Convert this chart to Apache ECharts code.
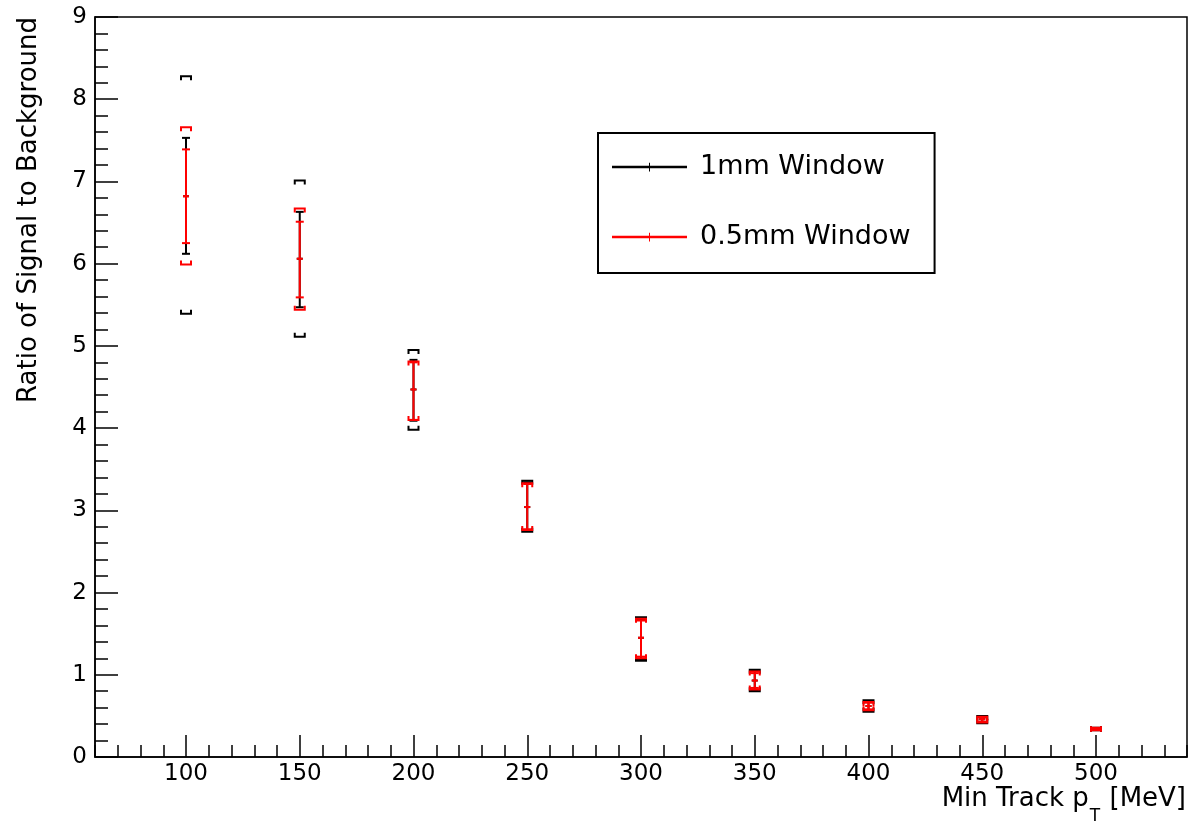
<!DOCTYPE html>
<html>
<head>
<meta charset="utf-8">
<script src="https://cdn.jsdelivr.net/npm/echarts@6/dist/echarts.min.js"></script>
<style>
  html, body { margin: 0; padding: 0; background: #fff; }
  #chart { width: 1191px; height: 829px; }
</style>
</head>
<body>
<div id="chart"></div>
<script>
/** Ratio of signal to background vs min track pT */

const FONT = '"DejaVu Sans"'

// x values (MeV)
const pt = [100, 150, 200, 250, 300, 350, 400, 450, 500]

// 1mm window: central value, stat errors, systematic brackets
const oneCenter = [6.82, 6.06, 4.47, 3.04, 1.45, 0.93, 0.62, 0.46, 0.34]
const oneStatLo = [6.12, 5.47, 4.09, 2.75, 1.19, 0.81, 0.56, 0.42, 0.33]
const oneStatHi = [7.53, 6.63, 4.83, 3.34, 1.68, 1.05, 0.68, 0.49, 0.35]
const oneSysLo = [5.39, 5.11, 3.98, 2.74, 1.17, 0.80, 0.55, 0.41, 0.325]
const oneSysHi = [8.28, 7.01, 4.95, 3.36, 1.70, 1.06, 0.69, 0.50, 0.355]

// 0.5mm window
const halfCenter = [6.82, 6.06, 4.47, 3.04, 1.45, 0.93, 0.62, 0.46, 0.34]
const halfStatLo = [6.25, 5.59, 4.10, 2.77, 1.22, 0.84, 0.58, 0.43, 0.33]
const halfStatHi = [7.39, 6.51, 4.80, 3.32, 1.66, 1.02, 0.66, 0.48, 0.35]
const halfSysLo = [5.99, 5.44, 4.10, 2.76, 1.20, 0.82, 0.57, 0.42, 0.325]
const halfSysHi = [7.66, 6.67, 4.81, 3.33, 1.68, 1.04, 0.67, 0.49, 0.355]

// tick labels
const xMajor = [100, 150, 200, 250, 300, 350, 400, 450, 500]
const xTitle = ['Min Track p', 'T', ' [MeV]']
const yTitle = 'Ratio of Signal to Background'
const names = ['1mm Window', '0.5mm Window']

/** 组装 custom series 数据 */
function buildData(c, sl, sh, yl, yh) {
    return pt.map((x, i) => [x, c[i], sl[i], sh[i], yl[i], yh[i]])
}

/** 误差棒 + 系统误差括号 */
function renderErr(color) {
    return function (params, api) {
        let x = api.value(0)
        let c = api.coord([x, api.value(1)])
        let sl = api.coord([x, api.value(2)])
        let sh = api.coord([x, api.value(3)])
        let yl = api.coord([x, api.value(4)])
        let yh = api.coord([x, api.value(5)])
        let cx = c[0]
        let st = { stroke: color, lineWidth: 2, fill: null }
        let seg = (x1, y1, x2, y2) => ({ type: 'line', shape: { x1, y1, x2, y2 }, style: st })
        let poly = pts => ({ type: 'polyline', shape: { points: pts }, style: st })
        let w = 5, cap = 4, leg = 4
        return {
            type: 'group',
            children: [
                seg(cx, sl[1], cx, sh[1]),
                seg(cx - cap, sl[1], cx + cap, sl[1]),
                seg(cx - cap, sh[1], cx + cap, sh[1]),
                seg(cx - 3, c[1], cx + 3, c[1]),
                poly([[cx - w, yh[1] + leg], [cx - w, yh[1]], [cx + w, yh[1]], [cx + w, yh[1] + leg]]),
                poly([[cx - w, yl[1] - leg], [cx - w, yl[1]], [cx + w, yl[1]], [cx + w, yl[1] - leg]])
            ]
        }
    }
}

let chart = echarts.init(document.getElementById('chart'))

let lineIcon = 'path://M0,4L60,4L60,6L0,6Z M29.6,1.5L30.4,1.5L30.4,8.5L29.6,8.5Z'

let option = {
    backgroundColor: '#fff',
    animation: false,
    textStyle: { fontFamily: FONT },
    grid: {
        left: 95, right: 4, top: 17, bottom: 72,
        show: true, borderColor: '#000', borderWidth: 1.5, backgroundColor: '#fff'
    },
    legend: {
        orient: 'vertical',
        left: 598, top: 133,
        padding: [19, 24, 21, 14],
        itemGap: 40,
        itemWidth: 75, itemHeight: 10,
        borderColor: '#000', borderWidth: 2,
        backgroundColor: '#fff',
        textStyle: { fontSize: 27, lineHeight: 30, color: '#000', fontFamily: FONT, padding: [0, 0, 0, 8] },
        data: [
            { name: names[0], icon: lineIcon },
            { name: names[1], icon: lineIcon }
        ]
    },
    xAxis: [{
        type: 'value', min: 60, max: 540, interval: 10,
        axisLine: { onZero: false, lineStyle: { color: '#000', width: 1.5 } },
        axisTick: { inside: true, length: 12, lineStyle: { color: '#000', width: 1.5 } },
        axisLabel: {
            customValues: xMajor,
            fontSize: 23, color: '#000', margin: 6, fontFamily: FONT
        },
        splitLine: { show: false }
    }, {
        type: 'value', min: 60, max: 540, position: 'bottom', offset: 0,
        axisLine: { show: false, onZero: false },
        axisTick: { inside: true, length: 22, customValues: xMajor, lineStyle: { color: '#000', width: 1.5 } },
        axisLabel: { show: false },
        splitLine: { show: false }
    }],
    yAxis: {
        type: 'value', min: 0, max: 9, interval: 1,
        axisLine: { show: true, lineStyle: { color: '#000', width: 1.5 } },
        axisTick: { inside: true, length: 23, lineStyle: { color: '#000', width: 1.5 } },
        minorTick: { show: true, splitNumber: 5, length: 13, lineStyle: { color: '#000', width: 1.5 } },
        axisLabel: { fontSize: 23, color: '#000', margin: 8, fontFamily: FONT, showMinLabel: true, showMaxLabel: true },
        splitLine: { show: false }
    },
    graphic: [{
        type: 'text', x: 29, y: 17, rotation: Math.PI / 2,
        style: { text: yTitle, fill: '#000', font: '26px ' + FONT, align: 'right', verticalAlign: 'middle' }
    }, {
        type: 'text', x: 1186, y: 786,
        style: {
            text: '{a|' + xTitle[0] + '}{s|' + xTitle[1] + '}{a|' + xTitle[2] + '}',
            fill: '#000', align: 'right', verticalAlign: 'top',
            rich: {
                a: { fontSize: 26, fontFamily: FONT, lineHeight: 30, verticalAlign: 'top', fill: '#000' },
                s: { fontSize: 17, fontFamily: FONT, lineHeight: 17, padding: [22, 1, 0, 1], verticalAlign: 'top', fill: '#000' }
            }
        }
    }],
    series: [{
        name: names[0],
        type: 'custom',
        itemStyle: { color: '#000' },
        renderItem: renderErr('#000'),
        encode: { x: 0, y: 1 },
        clip: false,
        data: buildData(oneCenter, oneStatLo, oneStatHi, oneSysLo, oneSysHi)
    }, {
        name: names[1],
        type: 'custom',
        itemStyle: { color: '#ff0000' },
        renderItem: renderErr('#ff0000'),
        encode: { x: 0, y: 1 },
        clip: false,
        data: buildData(halfCenter, halfStatLo, halfStatHi, halfSysLo, halfSysHi)
    }]
}

chart.setOption(option)
</script>
</body>
</html>
